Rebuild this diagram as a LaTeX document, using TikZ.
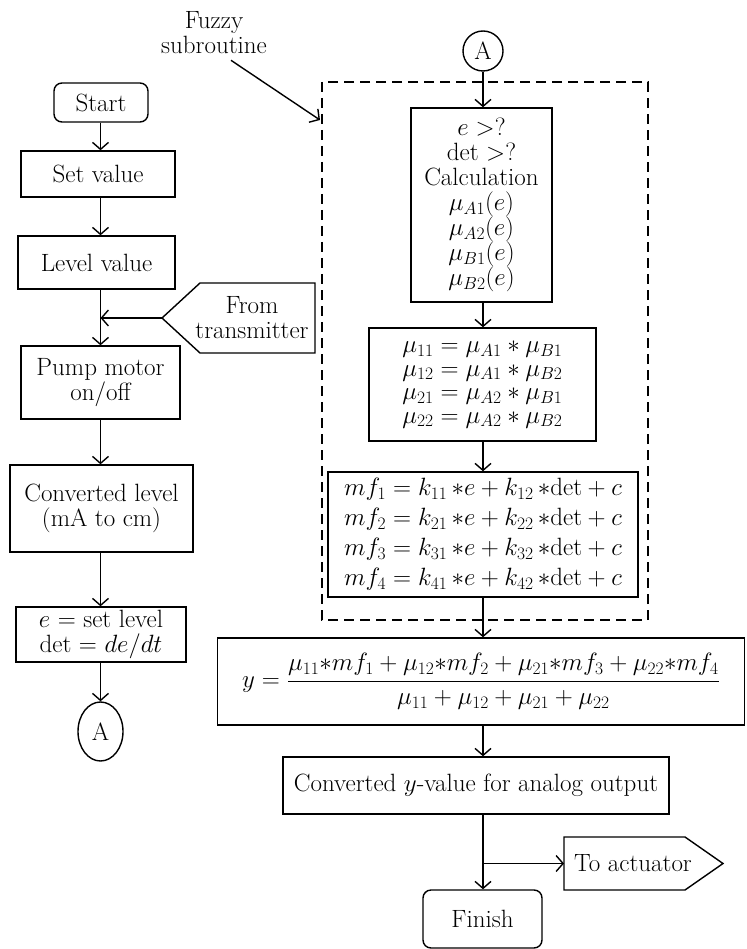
\RequirePackage{fix-cm}
\documentclass[tikz,border=0pt]{standalone}
\usepackage{amsmath}
\usetikzlibrary{arrows.meta,shapes.geometric}
\begin{document}
\begin{tikzpicture}[x=1pt,y=-1pt,
  txt/.style={font=\fontsize{25}{25}\selectfont, align=center, inner sep=0pt},
  box/.style={txt, draw, line width=1.4pt},
  rbox/.style={box, rounded corners=8pt},
  ln/.style={line width=1.4pt},
  arr/.style={ln, -{Straight Barb[length=7pt,width=16pt]}},
  dashbox/.style={ln, dash pattern=on 10pt off 6pt}]
\useasboundingbox (0,0) rectangle (746,949);

% ---- left column
\node[rbox, minimum width=94pt, minimum height=39pt] (start) at (101,102.5) {Start};
\node[box, minimum width=154pt, minimum height=46pt] (setv) at (98,174) {Set value};
\node[box, minimum width=157pt, minimum height=53pt] (levelv) at (96.5,262.5) {Level value};
\node[box, minimum width=159pt, minimum height=73pt] (pump) at (100.5,382.5) {Pump motor\\on/off};
\node[box, minimum width=183pt, minimum height=87pt] (conv) at (101.5,508.5) {Converted level\\(mA to cm)};
\node[box, minimum width=170pt, minimum height=55pt] (eset) at (101,634.5) {$e$ = set level\\det = $de/dt$};
\node[box, shape=ellipse, minimum width=45pt, minimum height=59pt] (abot) at (100.5,731.5) {A};

\draw[arr] (start.south -| abot.center) -- (setv.north -| abot.center);
\draw[arr] (setv.south -| abot.center) -- (levelv.north -| abot.center);
\draw[arr] (levelv.south -| abot.center) -- (pump.north -| abot.center);
\draw[arr] (pump.south -| abot.center) -- (conv.north -| abot.center);
\draw[arr] (conv.south -| abot.center) -- (eset.north -| abot.center);
\draw[arr] (eset.south -| abot.center) -- (abot.north);

% from transmitter
\coordinate (ftip) at (162,318);
\draw[ln] (ftip) -- ++(38,-35) -- ++(115,0) -- ++(0,70) -- ++(-115,0) -- cycle;
\node[txt] (fromt) at (252,318) {From\\transmitter};
\draw[arr] (ftip) -- (ftip -| abot.center);

% fuzzy label
\node[txt] (fuzzy) at (214,33) {Fuzzy\\subroutine};
\coordinate (fzt) at (320,120);
\draw[arr] ([shift={(17,6)}]fuzzy.south) -- (fzt);

% dashed subroutine box
\coordinate (dtl) at (322,82);
\coordinate (dbr) at (648,620);
\draw[dashbox] (dtl) rectangle (dbr);

% ---- right column
\node[box, shape=circle, minimum size=40pt] (atop) at (483,51) {A};
\node[box, minimum width=141pt, minimum height=194pt] (calc) at (481.5,205)
  {$e>$?\\det $>$?\\Calculation\\$\mu_{A1}(e)$\\$\mu_{A2}(e)$\\$\mu_{B1}(e)$\\$\mu_{B2}(e)$};
\node[box, font=\fontsize{25}{23.5}\selectfont, minimum width=227pt, minimum height=113pt] (mu) at (482.5,384.5)
  {$\mu_{11} = \mu_{A1} * \mu_{B1}$\\$\mu_{12} = \mu_{A1} * \mu_{B2}$\\$\mu_{21} = \mu_{A2} * \mu_{B1}$\\$\mu_{22} = \mu_{A2} * \mu_{B2}$};
\node[box, font=\fontsize{25}{30}\selectfont, minimum width=310pt, minimum height=125pt] (mf) at (483,534.5)
  {$mf_1 = k_{11}\,{*}e + k_{12}\,{*}\mathrm{det} + c$\\
   $mf_2 = k_{21}\,{*}e + k_{22}\,{*}\mathrm{det} + c$\\
   $mf_3 = k_{31}\,{*}e + k_{32}\,{*}\mathrm{det} + c$\\
   $mf_4 = k_{41}\,{*}e + k_{42}\,{*}\mathrm{det} + c$};
\node[box, minimum width=527pt, minimum height=87pt] (ybox) at (481,681.5)
  {$y = \dfrac{\mu_{11}{*}mf_1 + \mu_{12}{*}mf_2 + \mu_{21}{*}mf_3 + \mu_{22}{*}mf_4}{\mu_{11}+\mu_{12}+\mu_{21}+\mu_{22}}$};
\node[box, minimum width=386pt, minimum height=57pt] (cy) at (476,785.5) {Converted $y$-value for analog output};
\node[rbox, minimum width=119pt, minimum height=58pt] (finish) at (482.5,919) {Finish};

\draw[arr] (atop.south) -- (calc.north -| atop.center);
\draw[arr] (calc.south -| atop.center) -- (mu.north -| atop.center);
\draw[arr] (mu.south -| atop.center) -- (mf.north -| atop.center);
\draw[arr] (mf.south -| atop.center) -- (ybox.north -| atop.center);
\draw[arr] (ybox.south -| atop.center) -- (cy.north -| atop.center);
\draw[arr] (cy.south -| atop.center) -- (finish.north -| atop.center);

% to actuator
\coordinate (ttail) at (564,863.5);
\draw[ln] (ttail) -- ++(0,-26.5) -- ++(121,0) -- ++(38,26.5) -- ++(-38,26.5) -- ++(-121,0) -- cycle;
\node[txt] (toact) at (633,863) {To actuator};
\coordinate (branch) at (atop.center |- ttail);
\draw[arr] (branch) -- (ttail);
\end{tikzpicture}
\end{document}
